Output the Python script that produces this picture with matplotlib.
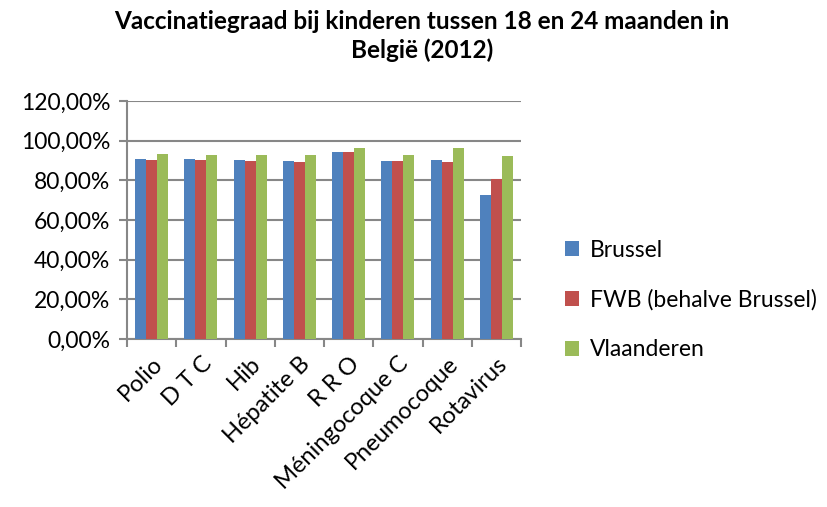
import matplotlib
matplotlib.use("Agg")
import matplotlib.pyplot as plt
import numpy as np
from matplotlib.ticker import FuncFormatter

categories = ["Polio", "D T C", "Hib", "Hépatite B", "R R O", "Méningocoque C", "Pneumocoque", "Rotavirus"]
brussel = [91.0, 91.0, 90.2, 89.7, 94.2, 89.5, 90.2, 72.8]
fwb = [90.5, 90.5, 89.5, 89.2, 94.5, 89.8, 89.2, 80.5]
vlaanderen = [93.3, 93.0, 93.0, 93.0, 96.5, 93.0, 96.3, 92.2]
series_names = ["Brussel", "FWB (behalve Brussel)", "Vlaanderen"]
colors = ["#4F81BD", "#C0504D", "#9BBB59"]

plt.rcParams['font.family'] = ['Lato', 'DejaVu Sans']

fig = plt.figure(figsize=(8.27, 5.07), dpi=100)
ax = fig.add_axes([127/827, 1-339/507, (521-127)/827, (339-101)/507])

x = np.arange(len(categories))
w = 0.222
for i, (vals, name, c) in enumerate(zip([brussel, fwb, vlaanderen], series_names, colors)):
    ax.bar(x + (i - 1) * w, vals, width=w, color=c, label=name, zorder=3)

ax.set_xlim(-0.5, len(categories) - 0.5)
ax.set_ylim(0, 120)
ax.set_yticks(np.arange(0, 121, 20))
ax.yaxis.set_major_formatter(FuncFormatter(lambda v, p: f"{v:.2f}".replace(".", ",") + "%"))
ax.grid(axis='y', color='#878787', linewidth=1.5, zorder=0)
ax.set_xticks(x)
ax.set_xticklabels(categories, rotation=45, ha='right', rotation_mode='anchor', fontsize=17)
ax.set_xticks(np.arange(-0.5, len(categories), 1), minor=True)
ax.tick_params(axis='x', which='major', length=0, pad=10)
ax.tick_params(axis='x', which='minor', length=6, color='#878787', width=1.5)
ax.tick_params(axis='y', length=6, color='#878787', width=1.5, labelsize=16.5, pad=6)
for s in ['top', 'right']:
    ax.spines[s].set_visible(False)
for s in ['left', 'bottom']:
    ax.spines[s].set_color('#878787')
    ax.spines[s].set_linewidth(1.5)

fig.text(422/827, 1-36/507, "Vaccinatiegraad bij kinderen tussen 18 en 24 maanden in\nBelgië (2012)",
         ha='center', va='center', fontsize=17.5, fontweight='bold', linespacing=1.3)

leg = fig.legend(loc='center left', bbox_to_anchor=(565/827, 1-300/507), frameon=False,
                 borderpad=0, borderaxespad=0,
                 fontsize=16.5, handlelength=0.6, handleheight=0.6, handletextpad=0.5, labelspacing=1.25)

fig.savefig("out.png", dpi=100)
